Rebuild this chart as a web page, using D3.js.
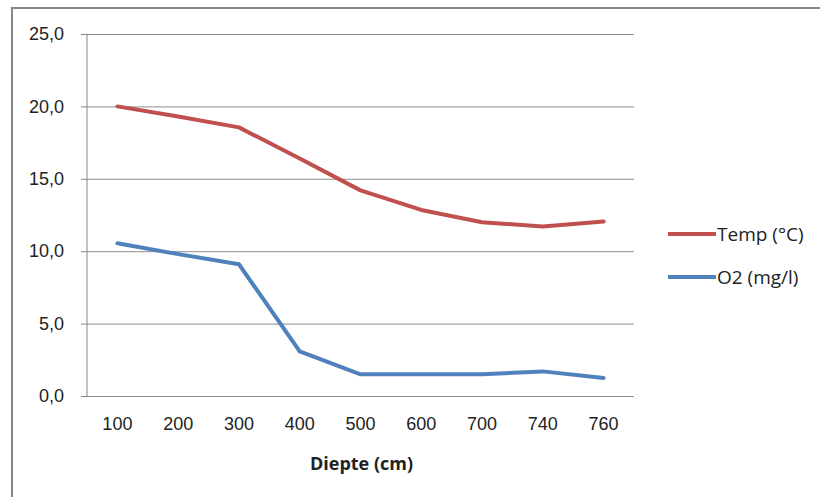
<!DOCTYPE html>
<html>
<head>
<meta charset="utf-8">
<script src="https://cdn.jsdelivr.net/npm/d3@7"></script>
<style>
  html, body { margin: 0; padding: 0; background: #fff; }
  svg { display: block; font-family: "Open Sans", "Noto Sans", sans-serif; }
  .axis text { font-size: 18px; fill: #222; }
  .axis path, .axis line { stroke: #868686; }
  .grid line { stroke: #8c8c8c; }
  .grid path { display: none; }
  .line { fill: none; stroke-width: 4; stroke-linejoin: round; stroke-linecap: round; }
</style>
</head>
<body>
<div id="line-chart"></div>
<script>
// depth categories (cm)
var depths = ["100", "200", "300", "400", "500", "600", "700", "740", "760"];
// series values
var tempValues = [20.0, 19.3, 18.55, 16.4, 14.2, 12.85, 12.0, 11.7, 12.05];
var o2Values = [10.55, 9.8, 9.1, 3.08, 1.5, 1.5, 1.5, 1.7, 1.25];
var yTicks = [0, 5, 10, 15, 20, 25];
var seriesNames = ["Temp (°C)", "O2 (mg/l)"];
var seriesColors = ["#c0504d", "#4f81bd"];

var dataSeries = [
  { name: seriesNames[0], values: tempValues },
  { name: seriesNames[1], values: o2Values }
];

var width = 820;
var height = 497;
var margins = { top: 34, right: 186, bottom: 101, left: 87 };
var chartWidth = width - margins.left - margins.right;
var chartHeight = height - margins.top - margins.bottom;

var svg = d3.select("#line-chart")
  .append("svg")
  .attr("width", width)
  .attr("height", height);

// outer chart border (only top and left show in the picture)
svg.append("path")
  .attr("d", "M12,497V8H820")
  .attr("fill", "none")
  .attr("stroke", "#868686")
  .attr("stroke-width", 2);

var chartElement = svg.append("g")
  .attr("transform", `translate(${margins.left},${margins.top})`);

var xScale = d3.scaleBand()
  .domain(depths)
  .range([0, chartWidth]);

var yScale = d3.scaleLinear()
  .domain([0, 25])
  .range([chartHeight, 0]);

var fmt = d => d3.format(".1f")(d).replace(".", ",");

// grid
chartElement.append("g")
  .attr("class", "grid")
  .call(d3.axisLeft(yScale).tickValues(yTicks).tickSize(-chartWidth).tickFormat(""));

// y axis
var yAxis = chartElement.append("g")
  .attr("class", "y axis")
  .call(d3.axisLeft(yScale).tickValues(yTicks).tickSize(6).tickSizeOuter(0).tickPadding(17).tickFormat(fmt));
yAxis.select(".domain").remove();
chartElement.append("line")
  .attr("x1", 0).attr("x2", 0)
  .attr("y1", 0).attr("y2", chartHeight)
  .attr("stroke", "#868686");

// x axis
var xAxis = chartElement.append("g")
  .attr("class", "x axis")
  .attr("transform", `translate(0,${chartHeight})`)
  .call(d3.axisBottom(xScale).tickSize(0).tickPadding(21));
xAxis.select(".domain").remove();

chartElement.append("text")
  .attr("x", chartWidth / 2 + 1)
  .attr("y", chartHeight + 74)
  .attr("text-anchor", "middle")
  .attr("font-size", "18px")
  .attr("font-weight", "bold")
  .attr("fill", "#222")
  .text("Diepte (cm)");

// lines
var line = d3.line()
  .x((d, i) => xScale(depths[i]) + xScale.bandwidth() / 2)
  .y(d => yScale(d));

chartElement.append("g")
  .selectAll("path")
  .data(dataSeries)
  .enter()
  .append("path")
  .attr("class", "line")
  .attr("stroke", (d, i) => seriesColors[i])
  .attr("d", d => line(d.values));

// legend
var legend = svg.append("g")
  .selectAll("g")
  .data(dataSeries)
  .enter()
  .append("g")
  .attr("transform", (d, i) => `translate(668,${234 + i * 43})`);

legend.append("line")
  .attr("x1", 0).attr("x2", 48)
  .attr("stroke", (d, i) => seriesColors[i])
  .attr("stroke-width", 4);

legend.append("text")
  .attr("x", 49)
  .attr("dy", "0.35em")
  .attr("font-size", "19px")
  .attr("fill", "#222")
  .text(d => d.name);
</script>
</body>
</html>
